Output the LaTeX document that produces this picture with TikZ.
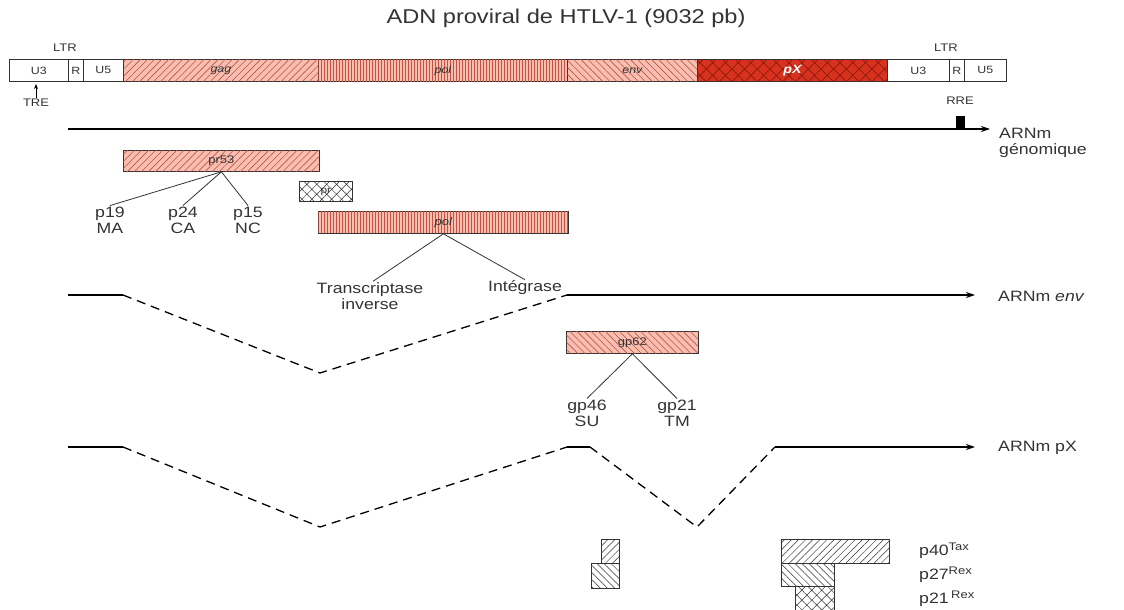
\documentclass[tikz,border=0pt]{standalone}
\usepackage{fontspec}
\setmainfont{Liberation Sans}[FakeStretch=1.18]
\usetikzlibrary{patterns.meta,arrows.meta,calc}
\definecolor{salmon}{HTML}{F6BFB2}
\definecolor{hatchred}{HTML}{C8503E}
\definecolor{pxred}{HTML}{D8321E}
\definecolor{pxdark}{HTML}{8A1A10}
\definecolor{txt}{HTML}{333333}
\tikzset{
  seg/.style={draw=txt, line width=0.8pt, minimum height=22pt, inner sep=0pt, anchor=north west, font=\fontsize{10.5}{10.5}\selectfont, text=txt},
  hatchNE/.style={fill=salmon, postaction={pattern={Lines[angle=45,distance=5pt,line width=0.6pt]}, pattern color=hatchred}},
  hatchNW/.style={fill=salmon, postaction={pattern={Lines[angle=-45,distance=5pt,line width=0.6pt]}, pattern color=hatchred}},
  hatchV/.style={fill=salmon, postaction={pattern={Lines[angle=90,distance=3pt,line width=0.6pt]}, pattern color=hatchred}},
  hatchX/.style={fill=pxred, postaction={pattern={Hatch[angle=45,distance=9pt,line width=0.7pt]}, pattern color=pxdark}},
  gNE/.style={fill=white, postaction={pattern={Lines[angle=45,distance=5pt,line width=0.5pt]}, pattern color=txt}},
  gNW/.style={fill=white, postaction={pattern={Lines[angle=-45,distance=5pt,line width=0.5pt]}, pattern color=txt}},
  gX/.style={fill=white, postaction={pattern={Hatch[angle=45,distance=7pt,line width=0.5pt]}, pattern color=txt}},
  lbl/.style={font=\fontsize{15}{16}\selectfont, text=txt, align=center, inner sep=1pt},
  small/.style={font=\fontsize{11}{12}\selectfont, text=txt, inner sep=1pt},
  conn/.style={draw=txt, line width=0.8pt},
  rna/.style={draw=black, line width=1.3pt},
  rnad/.style={draw=black, line width=1.3pt, dash pattern=on 9pt off 6pt},
  arr/.style={-{Stealth[length=9pt,width=6pt]}},
}
\begin{document}
\begin{tikzpicture}[x=1pt,y=-1pt]
\useasboundingbox (0,0) rectangle (1124,610);
\node[font=\fontsize{20}{22}\selectfont, text=txt] (title) at (566,18) {ADN proviral de HTLV-1 (9032 pb)};

% genome bar
\node[seg, minimum width=59pt] (u3a) at (9,59) {U3};
\node[seg, minimum width=15pt] (ra) at (68,59) {R};
\node[seg, minimum width=40pt] (u5a) at (83,59) {U5};
\node[seg, hatchNE, minimum width=195pt] (gag) at (123,59) {\itshape gag};
\node[seg, hatchV, minimum width=249pt] (pol) at (318,59) {\itshape pol};
\node[seg, hatchNW, minimum width=130pt] (env) at (567,59) {\itshape env};
\node[seg, hatchX, minimum width=190pt, text=white, font=\fontsize{12}{12}\selectfont\bfseries\itshape] (px) at (697,59) {pX};
\node[seg, minimum width=62pt] (u3b) at (887,59) {U3};
\node[seg, minimum width=15pt] (rb) at (949,59) {R};
\node[seg, minimum width=42pt] (u5b) at (964,59) {U5};
\node[small] (ltra) at (65,48) {LTR};
\node[small] (ltrb) at (946,48) {LTR};

% TRE
\node[small] (tre) at (36,103) {TRE};
\coordinate (treTop) at (36,84);
\draw[line width=1pt, -{Stealth[length=5pt,width=4pt]}] (tre.north) -- (treTop);

% genomic mRNA
\coordinate (g0) at (68,129);
\coordinate (g1) at (990,129);
\draw[rna, arr] (g0) -- (g1);
\node[small] (rre) at (960,101) {RRE};
\node[fill=black, minimum width=9pt, minimum height=13pt, inner sep=0pt, anchor=south] (rrebox) at (960,129) {};
\node[lbl, align=left, anchor=west] (arnmg) at (998,143) {ARNm\\génomique};

% pr53
\node[seg, hatchNE, minimum width=196pt, minimum height=21pt, font=\fontsize{11}{11}\selectfont] (pr53) at (123,150) {pr53};
\node[lbl] (p19) at (110,220) {p19\\MA};
\node[lbl] (p24) at (183,220) {p24\\CA};
\node[lbl] (p15) at (248,220) {p15\\NC};
\draw[conn] (pr53.south) -- (p19.north);
\draw[conn] (pr53.south) -- (p24.north);
\draw[conn] (pr53.south) -- (p15.north);

% pr
\node[seg, gX, minimum width=53pt, minimum height=20pt, font=\fontsize{10}{10}\selectfont] (pr) at (299,181) {pr};

% pol protein
\node[seg, hatchV, minimum width=250pt, minimum height=22pt, font=\fontsize{11}{11}\selectfont\itshape] (polp) at (318,211) {pol};
\node[lbl] (rt) at (370,296) {Transcriptase\\inverse};
\node[lbl] (int) at (525,288) {Intégrase};
\draw[conn] (polp.south) -- ($(rt.north)+(3,0)$);
\draw[conn] (polp.south) -- (int.north);

% env mRNA
\coordinate (e0) at (68,295);
\coordinate (e1) at (123,295);
\coordinate (e2) at (320,373);
\coordinate (e3) at (567,295);
\coordinate (e4) at (975,295);
\draw[rna] (e0) -- (e1);
\draw[rnad] (e1) -- (e2) -- (e3);
\draw[rna, arr] (e3) -- (e4);
\node[lbl, anchor=west] (arnme) at (997,296) {ARNm \textit{env}};

% gp62
\node[seg, hatchNW, minimum width=132pt, minimum height=22pt, font=\fontsize{11}{11}\selectfont] (gp62) at (566,331) {gp62};
\node[lbl] (gp46) at (587,413) {gp46\\SU};
\node[lbl] (gp21) at (677,413) {gp21\\TM};
\draw[conn] (gp62.south) -- (gp46.north);
\draw[conn] (gp62.south) -- (gp21.north);

% pX mRNA
\coordinate (x0) at (68,447);
\coordinate (x1) at (123,447);
\coordinate (x2) at (320,527);
\coordinate (x3) at (567,447);
\coordinate (x4) at (590,447);
\coordinate (x5) at (697,527);
\coordinate (x6) at (775,447);
\coordinate (x7) at (975,447);
\draw[rna] (x0) -- (x1);
\draw[rnad] (x1) -- (x2) -- (x3);
\draw[rna] (x3) -- (x4);
\draw[rnad] (x4) -- (x5) -- (x6);
\draw[rna, arr] (x6) -- (x7);
\node[lbl, anchor=west] (arnmx) at (997,448) {ARNm pX};

% bottom boxes
\node[seg, gNE, minimum width=18pt, minimum height=24pt] (b1) at (601,539) {};
\node[seg, gNW, minimum width=28pt, minimum height=25pt] (b2) at (591,563) {};
\node[seg, gNE, minimum width=108pt, minimum height=24pt] (tax) at (781,539) {};
\node[seg, gNW, minimum width=53pt, minimum height=23pt] (rex27) at (781,563) {};
\node[seg, gX, minimum width=39pt, minimum height=25pt] (rex21) at (795,586) {};
\node[lbl, anchor=west] (l40) at (918,551) {p40{\fontsize{11}{11}\selectfont\raisebox{5pt}{Tax}}};
\node[lbl, anchor=west] (l27) at (918,575) {p27{\fontsize{11}{11}\selectfont\raisebox{5pt}{Rex}}};
\node[lbl, anchor=west] (l21) at (918,599) {p21\,{\fontsize{11}{11}\selectfont\raisebox{5pt}{Rex}}};
\end{tikzpicture}
\end{document}
